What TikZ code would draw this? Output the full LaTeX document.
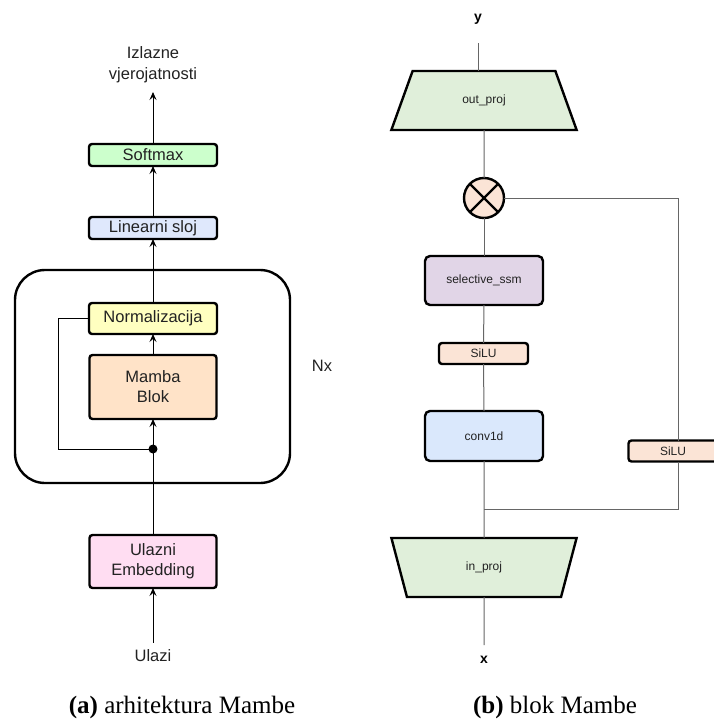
\documentclass[tikz,border=0pt]{standalone}
\usepackage{fontspec}
\setmainfont{Liberation Serif}
\newfontfamily\arial{Liberation Sans}
\usetikzlibrary{shapes.geometric,arrows.meta,calc}

\definecolor{cSoft}{HTML}{CCFFCC}
\definecolor{cLin}{HTML}{DFE8FC}
\definecolor{cNorm}{HTML}{FFFFC0}
\definecolor{cMamba}{HTML}{FFE3C8}
\definecolor{cEmb}{HTML}{FFDDF2}
\definecolor{cProj}{HTML}{E0EFDA}
\definecolor{cPeach}{HTML}{FBE4D6}
\definecolor{cSsm}{HTML}{E1D5E7}
\definecolor{cConv}{HTML}{DAE8FC}
\definecolor{cWire}{HTML}{666666}
\definecolor{cText}{HTML}{222222}

\tikzset{
  lbox/.style={draw=black, line width=2.4pt, rounded corners=3pt, align=center,
    inner sep=0pt, outer sep=0pt, text=cText, font=\arial\fontsize{16.5}{20}\selectfont},
  rbox/.style={draw=black, line width=2.4pt, rounded corners=5pt, align=center,
    inner sep=0pt, outer sep=0pt, text=cText, font=\arial\fontsize{12}{14}\selectfont},
  proj/.style={draw=black, line width=2.4pt, trapezium, trapezium stretches=true,
    inner sep=0pt, outer sep=0pt, minimum width=186pt, minimum height=59pt,
    fill=cProj, text=cText, font=\arial\fontsize{12}{14}\selectfont},
  ltext/.style={align=center, inner sep=0pt, text=cText, font=\arial\fontsize{16.5}{21}\selectfont},
  rtext/.style={inner sep=0pt, font=\arial\bfseries\fontsize{14}{16}\selectfont},
  conn/.style={line width=1pt, draw=black},
  arr/.style={conn, -{Stealth[length=8pt,width=7pt,inset=3pt]}},
  wire/.style={line width=1pt, draw=cWire},
  captext/.style={inner sep=0pt, anchor=base, font=\fontsize{25}{30}\selectfont},
}

\begin{document}
\begin{tikzpicture}[x=1pt,y=-1pt]
\useasboundingbox (0,0) rectangle (713,720);

% ---------- (a) overall architecture ----------
\draw[line width=2.4pt, rounded corners=30pt] (15,270) rectangle (290,483);

\node[ltext] (out) at (153,65) {Izlazne\\vjerojatnosti};
\coordinate (outtip) at (153,92);
\node[lbox, fill=cSoft, minimum width=128pt, minimum height=22pt] (soft) at (153,155) {Softmax};
\node[lbox, fill=cLin, minimum width=128pt, minimum height=22pt] (lin) at (153,228) {Linearni sloj};
\node[lbox, fill=cNorm, minimum width=128pt, minimum height=31pt] (norm) at (153,318.5) {Normalizacija};
\node[lbox, fill=cMamba, minimum width=127pt, minimum height=64pt] (mamba) at (153,387) {Mamba\\Blok};
\node[lbox, fill=cEmb, minimum width=127pt, minimum height=53pt] (emb) at (153,561.5) {Ulazni\\Embedding};
\node[ltext] (inp) at (153,656) {Ulazi};
\node[ltext] (nx) at (322,366) {Nx};

\fill (153,449) circle (4.5pt) coordinate (dot);
\coordinate (skip) at (58,449);

\draw[arr] (soft.north) -- (outtip);
\draw[arr] (lin.north) -- (soft.south);
\draw[arr] (norm.north) -- (lin.south);
\draw[arr] (mamba.north) -- (norm.south);
\draw[arr] (dot) -- (mamba.south);
\draw[conn] (emb.north) -- (dot);
\draw[conn] (dot) -- (skip) |- (norm.west);
\draw[arr] ($(inp.north)+(0,-7)$) -- (emb.south);

\node[captext] (capa) at (182,713) {\textbf{(a)} arhitektura Mambe};

% ---------- (b) Mamba block ----------
\node[rtext] (y) at (478,19) {y};
\coordinate (ytop) at (478,43);
\node[proj] (outp) at (484,100.5) {out\_proj};
\node[circle, draw=black, line width=2.4pt, fill=cPeach, minimum size=40pt,
      inner sep=0pt, outer sep=0pt] (mul) at (484,198) {};
\draw[line width=2.4pt] (mul.north west) -- (mul.south east)
                        (mul.north east) -- (mul.south west);
\node[rbox, fill=cSsm, minimum width=118pt, minimum height=49pt] (ssm) at (484,280.5) {selective\_ssm};
\node[rbox, fill=cPeach, rounded corners=3pt, minimum width=89pt, minimum height=21pt] (silua) at (483.5,353.5) {SiLU};
\node[rbox, fill=cConv, minimum width=118pt, minimum height=50pt] (conv) at (484,436) {conv1d};
\node[rbox, fill=cPeach, rounded corners=3pt, minimum width=89pt, minimum height=21pt] (silub) at (673,451) {SiLU};
\coordinate (junc) at (484,509);
\coordinate (rail) at (678,509);
\node[proj, trapezium left angle=108, trapezium right angle=108] (inp2) at (484,567.5) {in\_proj};
\node[rtext] (x) at (484,660) {x};
\coordinate (xtop) at (484,645);

\draw[wire] (ytop) -- (ytop |- outp.north);
\draw[wire] (outp.south) -- (mul.north);
\draw[wire] (mul.south) -- (ssm.north);
\draw[wire] (ssm.south) -- (silua.north);
\draw[wire] (silua.south) -- (conv.north);
\draw[wire] (conv.south) -- (inp2.north);
\draw[wire] (inp2.south) -- (xtop);
\draw[wire] (mul.east) -- (mul.east -| rail) -- (rail |- silub.north);
\draw[wire] (rail |- silub.south) -- (rail) -- (junc);

\node[captext] (capb) at (555,713) {\textbf{(b)} blok Mambe};
\end{tikzpicture}
\end{document}
